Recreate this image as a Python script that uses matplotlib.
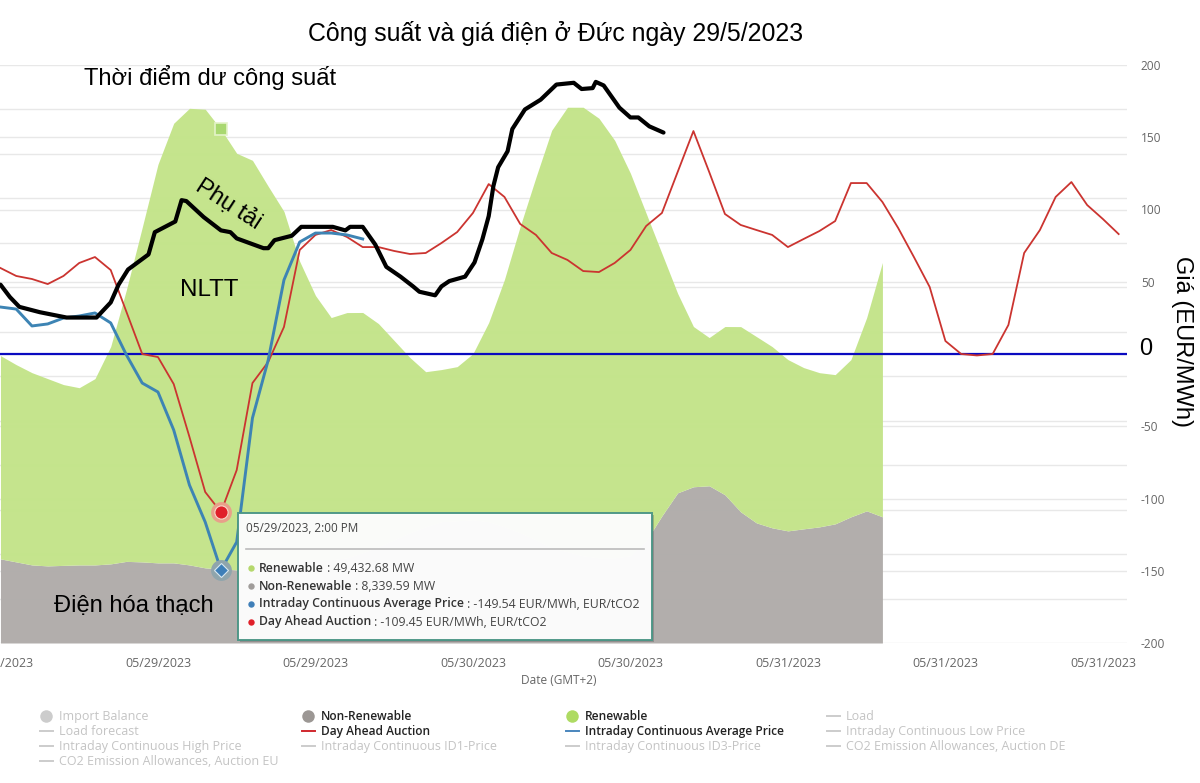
"""Power and electricity price in Germany, 29/5/2023."""

import matplotlib
matplotlib.use("Agg")
import matplotlib.pyplot as plt
from matplotlib.lines import Line2D
from matplotlib.patches import Rectangle

W, H = 1200, 783

# hourly values, hour 0 = 05/29/2023 00:00
non_renewable = [
    9.46, 9.12, 8.78, 8.67, 8.73, 8.78, 8.78, 8.90, 9.18, 9.12,
    9.01, 9.01, 8.78, 8.45, 8.34, 8.22, 8.22, 8.45, 8.67, 9.35,
    9.35, 9.35, 9.57, 10.14, 10.81, 11.60, 12.39, 13.06, 13.63, 13.74,
    13.85, 13.63, 13.06, 12.39, 11.60, 10.70, 10.25, 9.80, 9.57, 9.57,
    9.80, 11.49, 14.30, 16.89, 17.57, 17.68, 16.67, 14.75, 13.51, 12.95,
    12.61, 12.84, 13.06, 13.40, 14.19, 14.86, 14.19,
]
renewable = [
    22.86, 22.18, 21.62, 21.06, 20.33, 19.93, 20.95, 24.44, 30.57, 37.61,
    44.82, 49.44, 51.35, 51.58, 49.43, 46.85, 46.06, 42.91, 39.86, 33.56,
    29.73, 27.25, 27.59, 27.03, 25.11, 22.41, 19.71, 17.45, 17.12, 17.34,
    18.69, 22.41, 27.82, 34.46, 40.77, 46.96, 50.00, 50.45, 49.44, 46.96,
    43.02, 36.82, 29.50, 22.41, 18.02, 16.67, 18.92, 20.83, 20.95, 20.38,
    19.26, 18.13, 17.34, 16.78, 17.68, 21.73, 28.60,
]
day_ahead = [
    59.5, 54.0, 51.9, 48.4, 54.0, 63.0, 67.1, 58.1, 29.1, 0.0,
    -2.1, -20.8, -57.4, -95.5, -109.45, -80.3, -20.1, -5.5, 18.7, 72.0,
    82.4, 85.8, 81.0, 74.0, 74.0, 71.3, 69.2, 69.9, 76.8, 84.4,
    97.6, 117.6, 108.7, 90.0, 82.4, 69.9, 65.1, 57.4, 56.7, 63.0,
    72.0, 88.6, 97.6, 126.0, 154.3, 126.0, 96.9, 89.3, 85.8, 82.4,
    74.0, 79.6, 85.1, 92.0, 118.3, 118.3, 105.2, 87.2, 67.1, 46.4,
    9.0, 0.0, -1.0, 0.0, 20.1, 69.9, 85.8, 108.7, 119.0, 103.1,
    93.4, 83.0,
]
intraday = [
    32.5, 31.1, 19.4, 20.8, 24.9, 26.3, 28.4, 21.5, -0.7, -20.1,
    -26.3, -52.6, -90.7, -116.3, -149.54, -130.1, -44.3, -4.2, 51.2, 77.5,
    83.7, 83.7, 82.4, 79.6,
]

# hand drawn load curve, not on the hourly grid
load_hours = [
    0.0, 0.6, 1.2, 2.5, 4.2, 6.1, 7.0, 7.5, 8.1, 9.4, 9.8, 11.1, 11.5, 11.8,
    12.9, 14.0, 14.6, 15.0, 16.7, 17.0, 17.4, 18.5, 19.1, 21.1, 21.9, 22.2,
    23.0, 23.8, 24.5, 25.4, 26.2, 26.6, 27.6, 28.0, 28.5, 29.5, 30.1, 30.6,
    31.0, 31.3, 31.6, 32.2, 32.5, 33.3, 34.3, 35.3, 36.4, 36.9, 37.6, 37.8,
    38.3, 39.3, 40.0, 40.5, 41.2, 42.1,
]
load = [
    40.3, 38.9, 37.8, 37.2, 36.6, 36.6, 38.3, 40.3, 42.0, 43.7, 46.2, 47.4,
    49.8, 49.7, 47.9, 46.4, 46.2, 45.5, 44.4, 44.4, 45.3, 45.8, 46.8, 46.8,
    46.4, 46.8, 46.8, 44.8, 42.3, 41.2, 40.1, 39.5, 39.1, 40.1, 40.7, 41.2,
    42.8, 45.4, 48.0, 51.4, 53.5, 55.3, 57.8, 60.0, 61.1, 62.8, 63.0, 62.3,
    62.4, 63.1, 62.7, 60.2, 59.1, 59.1, 58.1, 57.4,
]

tick_hours = [0, 10, 20, 30, 40, 50, 60, 70]
tick_dates = ["05/29/2023", "05/29/2023", "05/29/2023", "05/30/2023",
              "05/30/2023", "05/31/2023", "05/31/2023", "05/31/2023"]
price_ticks = [-200, -150, -100, -50, 50, 100, 150, 200]
price_grid = [-200, -150, -100, -50, 0, 50, 100, 150, 200]
power_ticks = list(range(0, 70, 5))

hover_hour = 14
tooltip_rows = [
    ("Renewable", " : 49,432.68 MW", "#b5d86c"),
    ("Non-Renewable", " : 8,339.59 MW", "#a09c9a"),
    ("Intraday Continuous Average Price", " : -149.54 EUR/MWh, EUR/tCO2", "#3f7fb8"),
    ("Day Ahead Auction", " : -109.45 EUR/MWh, EUR/tCO2", "#e0202a"),
]
legend_rows = [
    ("Import Balance", "dot", "#cccccc", False), ("Non-Renewable", "dot", "#9c9794", True),
    ("Renewable", "dot", "#aedb63", True), ("Load", "dash", "#cccccc", False),
    ("Load forecast", "dash", "#cccccc", False), ("Day Ahead Auction", "dash", "#d0282e", True),
    ("Intraday Continuous Average Price", "dash", "#4a86bd", True),
    ("Intraday Continuous Low Price", "dash", "#cccccc", False),
    ("Intraday Continuous High Price", "dash", "#cccccc", False),
    ("Intraday Continuous ID1-Price", "dash", "#cccccc", False),
    ("Intraday Continuous ID3-Price", "dash", "#cccccc", False),
    ("CO2 Emission Allowances, Auction DE", "dash", "#cccccc", False),
    ("CO2 Emission Allowances, Auction EU", "dash", "#cccccc", False),
]

GREEN = "#c3e489"
GRAY = "#b0acaa"
RED = "#cb3430"
BLUE = "#3d84b4"
UI_FONT = "Open Sans"
LABEL_FONT = "Liberation Sans"

plt.rcParams["axes.unicode_minus"] = False


def fx(px):
    return px / W


def fy(py):
    return 1 - py / H


fig = plt.figure(figsize=(12, 7.83), dpi=100, facecolor="white")
rect = [0, fy(643), fx(1127), (643 - 65) / H]

# three stacked axes so the load stays on top of the price lines
ax_power = fig.add_axes(rect)
ax_price = fig.add_axes(rect, sharex=ax_power)
ax_load = fig.add_axes(rect, sharex=ax_power, sharey=ax_power)
ax_price.patch.set_visible(False)
ax_load.axis("off")

hours = list(range(len(renewable)))
total = [a + b for a, b in zip(non_renewable, renewable)]

ax_power.set_xlim(-0.03, 71.53)
ax_power.set_ylim(0, 65)
ax_power.set_yticks(power_ticks)
# price gridlines go here too, so the areas can sit over both grids
ax_power.set_yticks([(p + 200) / 400 * 65 for p in price_grid], minor=True)
ax_power.tick_params(which="both", left=False, labelleft=False, bottom=False, labelbottom=False)
ax_power.grid(axis="y", which="both", color="#e8e8e8", lw=1)
ax_power.set_axisbelow(True)
for s in ax_power.spines.values():
    s.set_visible(False)
ax_power.fill_between(hours, 0, non_renewable, color=GRAY, alpha=0.97, lw=0, zorder=2)
ax_power.fill_between(hours, non_renewable, total, color=GREEN, alpha=0.97, lw=0, zorder=2)

ax_price.set_ylim(-200, 200)
ax_price.yaxis.tick_right()
ax_price.set_yticks(price_ticks)
ax_price.tick_params(axis="y", length=0, pad=10, labelsize=8.6, labelcolor="#666666")
ax_price.set_xticks(tick_hours)
ax_price.set_xticklabels(tick_dates, fontsize=9, color="#666666", family=UI_FONT)
ax_price.tick_params(axis="x", length=0, pad=10, labelbottom=True)
for lab in ax_price.get_yticklabels():
    lab.set_family(UI_FONT)
for s in ax_price.spines.values():
    s.set_visible(False)

ax_price.axhline(0, color="#0a0ac0", lw=1.6, zorder=3)
ax_price.plot(range(len(day_ahead)), day_ahead, color=RED, lw=1.3, zorder=4)
ax_price.plot(range(len(intraday)), intraday, color=BLUE, lw=2.1, zorder=4)

# hover markers
ax_price.plot(hover_hour, day_ahead[hover_hour], "o", ms=15, color="#e8a08a", mew=0, zorder=5)
ax_price.plot(hover_hour, day_ahead[hover_hour], "o", ms=9.5, color="#e0202a",
              mec="#f8d8c8", mew=0.8, zorder=6)
ax_price.plot(hover_hour, intraday[hover_hour], "o", ms=15, color="#8fa5ac", mew=0, zorder=5)
ax_price.plot(hover_hour, intraday[hover_hour], "D", ms=7, color="#3d7fb8",
              mec="#d8e8f0", mew=0.8, zorder=6)
ax_power.plot(hover_hour, total[hover_hour], "s", ms=9, color="#a9d870",
              mec="#e4f3c8", mew=1.2, zorder=3)

ax_load.plot(load_hours, load, color="black", lw=3.0, solid_capstyle="round",
             solid_joinstyle="round", zorder=6)

# tooltip box, sits over the chart
fig.add_artist(Rectangle((fx(240), fy(642)), 414 / W, 127 / H, transform=fig.transFigure,
                         fc="#555555", alpha=0.35, lw=0, zorder=8))
fig.add_artist(Rectangle((fx(238), fy(640)), 414 / W, 127 / H, transform=fig.transFigure,
                         fc="white", alpha=0.96, ec="#4a9585", lw=1.4, zorder=9))
fig.text(fx(246), fy(529), "05/29/2023, 2:00 PM", fontsize=8.5, color="#444444",
         family=UI_FONT, va="center", zorder=10)
fig.add_artist(Line2D([fx(246), fx(644)], [fy(549), fy(549)], color="#bbbbbb", lw=1.2, zorder=10))

renderer = fig.canvas.get_renderer()
for i, (name, value, col) in enumerate(tooltip_rows):
    py = 568 + i * 18
    fig.add_artist(Line2D([fx(251)], [fy(py)], marker="o", ms=4.6, color=col, mew=0, zorder=10))
    t = fig.text(fx(259), fy(py), name, fontsize=8.8, fontweight="semibold", color="#333333",
                 family=UI_FONT, va="center", zorder=10)
    end = t.get_window_extent(renderer).x1
    fig.text(end / W, fy(py), value, fontsize=8.8, color="#444444",
             family=UI_FONT, va="center", zorder=10)

fig.text(fx(559), fy(680), "Date (GMT+2)", fontsize=8.6, color="#666666", family=UI_FONT,
         ha="center", va="center")

# legend, 4 columns filled row by row
col_x = [46, 308, 572, 833]
for i, (name, kind, col, active) in enumerate(legend_rows):
    x0 = col_x[i % 4]
    py = 716 + (i // 4) * 15
    if kind == "dot":
        fig.add_artist(Line2D([fx(x0)], [fy(py)], marker="o", ms=9, color=col, mew=0))
    else:
        fig.add_artist(Line2D([fx(x0 - 6), fx(x0 + 7)], [fy(py), fy(py)], color=col, lw=1.4))
    fig.text(fx(x0 + 13), fy(py + 0.5), name, va="center", family=UI_FONT,
             fontsize=8.6 if active else 9,
             color="#222222" if active else "#c4c4c4",
             fontweight="semibold" if active else "normal")

# annotations added on the picture
fig.text(fx(556), fy(34), "Công suất và giá điện ở Đức ngày 29/5/2023", fontsize=17.9,
         family=LABEL_FONT, ha="center", va="center")
fig.text(fx(210.5), fy(78), "Thời điểm dư công suất", fontsize=17.1, family=LABEL_FONT,
         ha="center", va="center", zorder=11)
fig.text(fx(228), fy(205), "Phụ tải", fontsize=17, family=LABEL_FONT, rotation=-33,
         ha="center", va="center", zorder=11)
fig.text(fx(209), fy(290), "NLTT", fontsize=17.4, family=LABEL_FONT, ha="center", va="center", zorder=11)
fig.text(fx(134), fy(606), "Điện hóa thạch", fontsize=17.1, family=LABEL_FONT,
         ha="center", va="center", zorder=11)
fig.text(fx(1146), fy(349), "0", fontsize=17, family=LABEL_FONT, ha="center", va="center")
fig.text(fx(1182), fy(341), "Giá (EUR/MWh)", fontsize=17, family=LABEL_FONT, rotation=-90,
         ha="center", va="center")

fig.savefig("out.png", dpi=100)
